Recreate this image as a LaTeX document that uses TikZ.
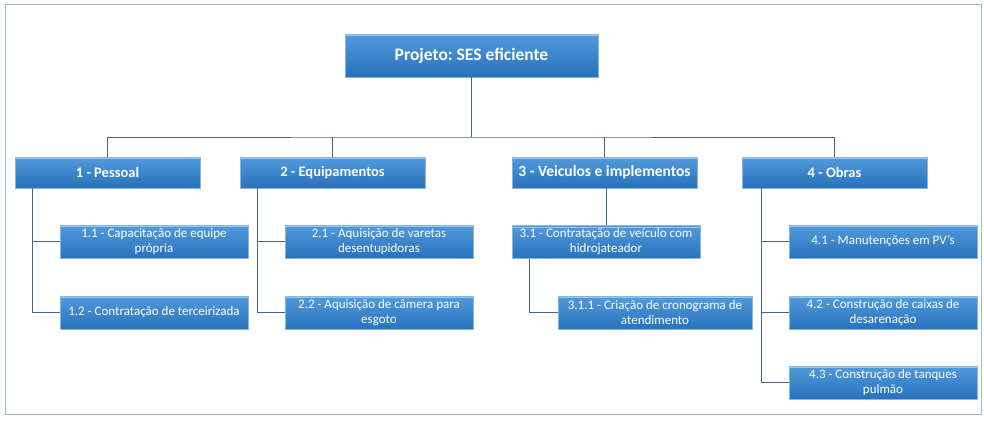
\documentclass[tikz,border=0pt]{standalone}
\usepackage{fontspec}
\setmainfont{Carlito}
\frenchspacing
\definecolor{boxtop}{RGB}{82,154,220}
\definecolor{boxbot}{RGB}{40,114,188}
\definecolor{boxedge}{RGB}{135,182,225}
\definecolor{boxhi}{RGB}{150,198,238}
\definecolor{linec}{RGB}{70,100,140}
\definecolor{framec}{RGB}{160,182,205}
\tikzset{
  x=1pt, y=1pt,
  wbox/.style={rectangle, top color=boxtop, bottom color=boxbot, draw=boxedge, line width=0.6pt,
    text=white, align=center, inner sep=1pt, font=\fontsize{13}{15}\selectfont,
    minimum width=188pt, minimum height=33pt,
    path picture={\draw[boxhi, line width=1.2pt]
      ([yshift=-1.8pt]path picture bounding box.north west) --
      ([yshift=-1.8pt]path picture bounding box.north east);}},
  lvlone/.style={wbox, minimum width=185pt, minimum height=31pt,
    font=\fontsize{14.5}{16}\selectfont\bfseries},
  rootbox/.style={wbox, minimum width=253pt, minimum height=43pt,
    font=\fontsize{17.5}{19}\selectfont\bfseries},
  conn/.style={draw=linec, line width=0.8pt}
}
\begin{document}
\begin{tikzpicture}
\useasboundingbox[fill=white] (0,0) rectangle (984,-424);
\draw[framec, line width=0.7pt] (5,-4) rectangle (981,-414);

\node[rootbox] (root) at (471.5,-55.5) {Projeto: SES eficiente};

\node[lvlone] (p1) at (107.5,-172.5) {1 - Pessoal};
\node[lvlone] (p2) at (332.5,-172.5) {2 - Equipamentos};
\node[lvlone, font=\fontsize{15.5}{17}\selectfont\bfseries] (p3) at (604.5,-172.5) {\makebox[180pt]{3 - Veiculos e implementos}};
\node[lvlone] (p4) at (834.5,-172.5) {4 - Obras};

\node[wbox] (c11) at (154,-241.5) {1.1 - Capacitação de equipe\\própria};
\node[wbox] (c12) at (154,-312.5) {1.2 - Contratação de terceirizada};
\node[wbox] (c21) at (379,-241.5) {2.1 - Aquisição de varetas\\desentupidoras};
\node[wbox] (c22) at (379,-312.5) {2.2 - Aquisição de câmera para\\esgoto};
\node[wbox] (c31) at (606,-242) {3.1 - Contratação de veículo com\\hidrojateador};
\node[wbox, minimum width=194pt] (c311) at (655,-312.5) {\makebox[188pt]{3.1.1 - Criação de cronograma de}\\atendimento};
\node[wbox] (c41) at (883,-241.5) {4.1 - Manutenções em PV's};
\node[wbox] (c42) at (883,-312.5) {4.2 - Construção de caixas de\\desarenação};
\node[wbox] (c43) at (883,-382.5) {4.3 - Construção de tanques\\pulmão};

\coordinate (busy) at (0,-137);
\draw[conn] (root.south) -- (root.south |- busy);
\draw[conn] (p1.north) |- (root.south |- busy) -| (p4.north);
\draw[conn] (p2.north) -- (p2.north |- busy);
\draw[conn] (p3.north) -- (p3.north |- busy);

\coordinate (t1) at ([xshift=18pt]p1.south west);
\draw[conn] (t1) |- (c11.west);
\draw[conn] (t1) |- (c12.west);
\coordinate (t2) at ([xshift=18pt]p2.south west);
\draw[conn] (t2) |- (c21.west);
\draw[conn] (t2) |- (c22.west);
\draw[conn] (c31.north) -- (c31.north |- p3.south);
\coordinate (t3) at ([xshift=18pt]c31.south west);
\draw[conn] (t3) |- (c311.west);
\coordinate (t4) at ([xshift=20pt]p4.south west);
\draw[conn] (t4) |- (c41.west);
\draw[conn] (t4) |- (c42.west);
\draw[conn] (t4) |- (c43.west);
\end{tikzpicture}
\end{document}
